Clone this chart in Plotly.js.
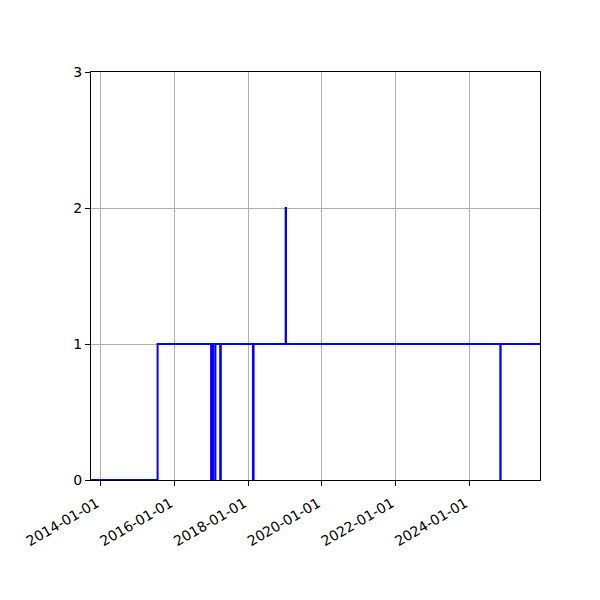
<!DOCTYPE html>
<html>
<head>
<meta charset="utf-8">
<script src="https://cdn.plot.ly/plotly-3.0.1.min.js"></script>
<style>
  html, body { margin: 0; padding: 0; background: #fff; }
  #chart { width: 600px; height: 600px; }
</style>
</head>
<body>
<div id="chart"></div>
<script>
// step series: value holds from each date until the next one
const stepDates = [
  '2013-09-26', '2015-07-18',
  '2016-12-29', '2017-01-17',
  '2017-02-08', '2017-02-10',
  '2017-03-29', '2017-04-04',
  '2018-02-17', '2018-02-23',
  '2019-01-07', '2019-01-10',
  '2024-11-03', '2024-11-06',
  '2025-12-01'
];
const stepValues = [
  0, 1,
  0, 1,
  0, 1,
  0, 1,
  0, 1,
  2, 1,
  0, 1,
  1
];

const xTickVals = ['2014-01-01', '2016-01-01', '2018-01-01', '2020-01-01', '2022-01-01', '2024-01-01'];
const yTickVals = [0, 1, 2, 3];

const trace = {
  x: stepDates,
  y: stepValues,
  type: 'scatter',
  mode: 'lines',
  line: { shape: 'hv', color: '#0000ff', width: 2 },
  hoverinfo: 'skip'
};

const axisCommon = {
  showline: true,
  linecolor: '#000',
  linewidth: 1,
  mirror: true,
  ticks: 'outside',
  ticklen: 5,
  tickwidth: 1,
  tickcolor: '#000',
  showgrid: true,
  gridcolor: '#b0b0b0',
  gridwidth: 1,
  zeroline: false,
  tickfont: { family: 'DejaVu Sans', size: 14, color: '#000' }
};

const layout = {
  width: 600,
  height: 600,
  paper_bgcolor: '#fff',
  plot_bgcolor: '#fff',
  showlegend: false,
  margin: { l: 91, r: 60, t: 72, b: 120 },
  xaxis: Object.assign({}, axisCommon, {
    type: 'date',
    range: ['2013-09-26', '2025-12-01'],
    tickvals: xTickVals,
    ticktext: xTickVals,
    tickangle: -30,
    ticklabelstandoff: 4,
    ticklabelshift: -4
  }),
  yaxis: Object.assign({}, axisCommon, {
    range: [0, 3],
    tickvals: yTickVals,
    ticktext: yTickVals.map(String)
  })
};

Plotly.newPlot('chart', [trace], layout, { displayModeBar: false, staticPlot: true });
</script>
</body>
</html>
